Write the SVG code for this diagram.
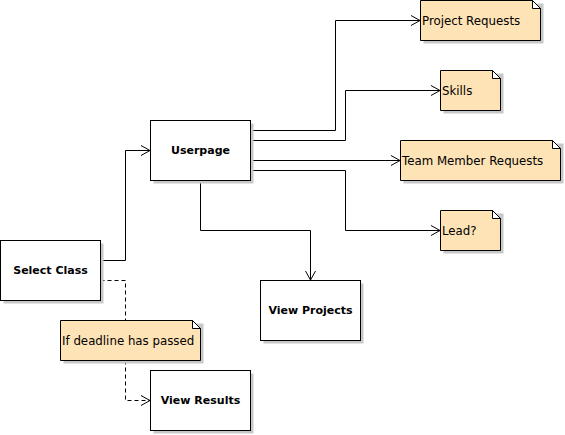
<svg xmlns="http://www.w3.org/2000/svg" width="565" height="435" viewBox="0 0 565 435">
<style>
.box{fill:#fff;stroke:#000;stroke-width:1}
.sh{fill:#c8c8c8}
.note{fill:#fee3b6;stroke:#000;stroke-width:1}
.fold{fill:#fff;stroke:#000;stroke-width:1}
.lbl{font-family:"DejaVu Sans",sans-serif;font-size:11px;font-weight:bold;fill:#000;text-anchor:middle}
.nt{font-family:"DejaVu Sans",sans-serif;font-size:11.8px;fill:#000}
.c{fill:none;stroke:#000;stroke-width:1;marker-end:url(#arr)}
.d{stroke-dasharray:4,3}
</style>
<defs>
<marker id="arr" markerWidth="12" markerHeight="12" refX="10" refY="6" orient="auto" markerUnits="userSpaceOnUse">
<path d="M1,1 L10,6 L1,11" fill="none" stroke="#000" stroke-width="1"/>
</marker>
</defs>
<rect width="565" height="435" fill="#fff"/>
<g id="connectors">
<path class="c" d="M250.5,130.5 H335.5 V20.5 H420"/>
<path class="c" d="M250.5,140.5 H345.5 V90.5 H440"/>
<path class="c" d="M250.5,160.5 H400"/>
<path class="c" d="M250.5,170.5 H345.5 V230.5 H440"/>
<path class="c" d="M200.5,180.5 V230.5 H310.5 V280"/>
<path class="c" d="M100.5,260.5 H125.5 V150.5 H150"/>
<path class="c d" d="M100.5,280.5 H125.5 V320" style="marker-end:none"/>
<path class="c d" d="M125.5,360.5 V400.5 H150"/>
</g>
<g id="userpage">
<rect class="sh" x="153.5" y="123.5" width="100" height="60"/>
<rect class="box" x="150.5" y="120.5" width="100" height="60"/>
<text class="lbl" x="200.5" y="154">Userpage</text>
</g>
<g id="select-class">
<rect class="sh" x="3.5" y="243.5" width="100" height="60"/>
<rect class="box" x="0.5" y="240.5" width="100" height="60"/>
<text class="lbl" x="50.5" y="274">Select Class</text>
</g>
<g id="view-projects">
<rect class="sh" x="263.5" y="283.5" width="100" height="60"/>
<rect class="box" x="260.5" y="280.5" width="100" height="60"/>
<text class="lbl" x="310.5" y="314">View Projects</text>
</g>
<g id="view-results">
<rect class="sh" x="153.5" y="373.5" width="100" height="60"/>
<rect class="box" x="150.5" y="370.5" width="100" height="60"/>
<text class="lbl" x="200.5" y="404">View Results</text>
</g>
<g id="project-requests">
<rect class="sh" x="423.5" y="3.5" width="120" height="40"/>
<path class="note" d="M420.5,0.5 H532.5 L540.5,8.5 V40.5 H420.5 Z"/>
<path class="fold" d="M532.5,0.5 L540.5,8.5 H532.5 Z"/>
<text class="nt" x="422" y="24.5">Project Requests</text>
</g>
<g id="skills">
<rect class="sh" x="443.5" y="73.5" width="60" height="40"/>
<path class="note" d="M440.5,70.5 H492.5 L500.5,78.5 V110.5 H440.5 Z"/>
<path class="fold" d="M492.5,70.5 L500.5,78.5 H492.5 Z"/>
<text class="nt" x="442" y="94.5">Skills</text>
</g>
<g id="team-member-requests">
<rect class="sh" x="403.5" y="143.5" width="160" height="40"/>
<path class="note" d="M400.5,140.5 H552.5 L560.5,148.5 V180.5 H400.5 Z"/>
<path class="fold" d="M552.5,140.5 L560.5,148.5 H552.5 Z"/>
<text class="nt" x="402" y="164.5">Team Member Requests</text>
</g>
<g id="lead">
<rect class="sh" x="443.5" y="213.5" width="60" height="40"/>
<path class="note" d="M440.5,210.5 H492.5 L500.5,218.5 V250.5 H440.5 Z"/>
<path class="fold" d="M492.5,210.5 L500.5,218.5 H492.5 Z"/>
<text class="nt" x="442" y="234.5">Lead?</text>
</g>
<g id="deadline-note">
<rect class="sh" x="63.5" y="323.5" width="140" height="40"/>
<path class="note" d="M60.5,320.5 H192.5 L200.5,328.5 V360.5 H60.5 Z"/>
<path class="fold" d="M192.5,320.5 L200.5,328.5 H192.5 Z"/>
<text class="nt" x="62" y="344.5">If deadline has passed</text>
</g>
</svg>
